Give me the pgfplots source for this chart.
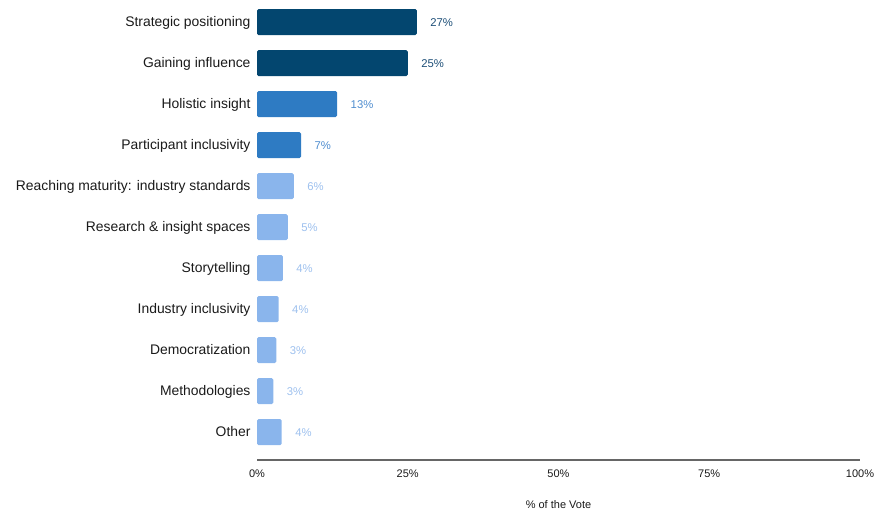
\documentclass[border=0pt]{standalone}
\usepackage{pgfplots}
\pgfplotsset{compat=1.18}
\usepackage{fontspec}
\setmainfont{Liberation Sans}
\definecolor{cdark}{HTML}{03466F}
\definecolor{cmid}{HTML}{2E7BC3}
\definecolor{clight}{HTML}{8AB5EC}
\definecolor{ldark}{HTML}{1E4F78}
\definecolor{lmid}{HTML}{4F8DCF}
\definecolor{llight}{HTML}{9DC0EE}
\definecolor{txt}{HTML}{1A1A1A}
\begin{document}
\begin{tikzpicture}
\useasboundingbox (0pt,0pt) rectangle (875pt,-513pt);
\begin{axis}[
  at={(257pt,-460pt)}, anchor=south west,
  scale only axis, width=603pt, height=458.5pt,
  xmin=0, xmax=100,
  ymin=-0.5, ymax=10.68, y dir=reverse,
  axis line style={draw=none},
  xtick={0,25,50,75,100},
  xticklabels={0\%,25\%,50\%,75\%,100\%},
  ytick={0,...,10},
  yticklabels={Strategic positioning,Gaining influence,Holistic insight,Participant inclusivity,Reaching maturity: industry standards,Research \& insight spaces,Storytelling,Industry inclusivity,Democratization,Methodologies,Other},
  major tick length=0pt,
  yticklabel style={font=\fontsize{13.9}{15}\selectfont, text=txt, xshift=-3pt, text height=10pt, text depth=3pt, yshift=-1pt},
  xticklabel style={font=\fontsize{11}{13}\selectfont, text=txt, yshift=-6pt},
  /pgf/number format/assume math mode=true,
  xlabel={\% of the Vote},
  xlabel style={font=\fontsize{11}{13}\selectfont, text=txt, yshift=-16pt},
  clip=false,
  xbar, bar width=26pt,
  nodes near coords,
  point meta=explicit symbolic,
  every node near coord/.append style={anchor=west, xshift=10pt, yshift=-1pt, font=\fontsize{11.3}{13}\selectfont, text height=8pt, text depth=2pt},
]
\draw[gray!80!black, line width=1.3pt] (axis cs:0,10.68) -- (axis cs:100,10.68);
\addplot[fill=cdark, draw=none, bar shift=0pt, rounded corners=1.5pt, every node near coord/.append style={text=ldark}] coordinates {(26.5,0) [27\%] (25.0,1) [25\%]};
\addplot[fill=cmid, draw=none, bar shift=0pt, rounded corners=1.5pt, every node near coord/.append style={text=lmid}] coordinates {(13.3,2) [13\%] (7.3,3) [7\%]};
\addplot[fill=clight, draw=none, bar shift=0pt, rounded corners=1.5pt, every node near coord/.append style={text=llight}] coordinates {(6.1,4) [6\%] (5.1,5) [5\%] (4.3,6) [4\%] (3.6,7) [4\%] (3.2,8) [3\%] (2.7,9) [3\%] (4.1,10) [4\%]};
\end{axis}
\end{tikzpicture}
\end{document}
